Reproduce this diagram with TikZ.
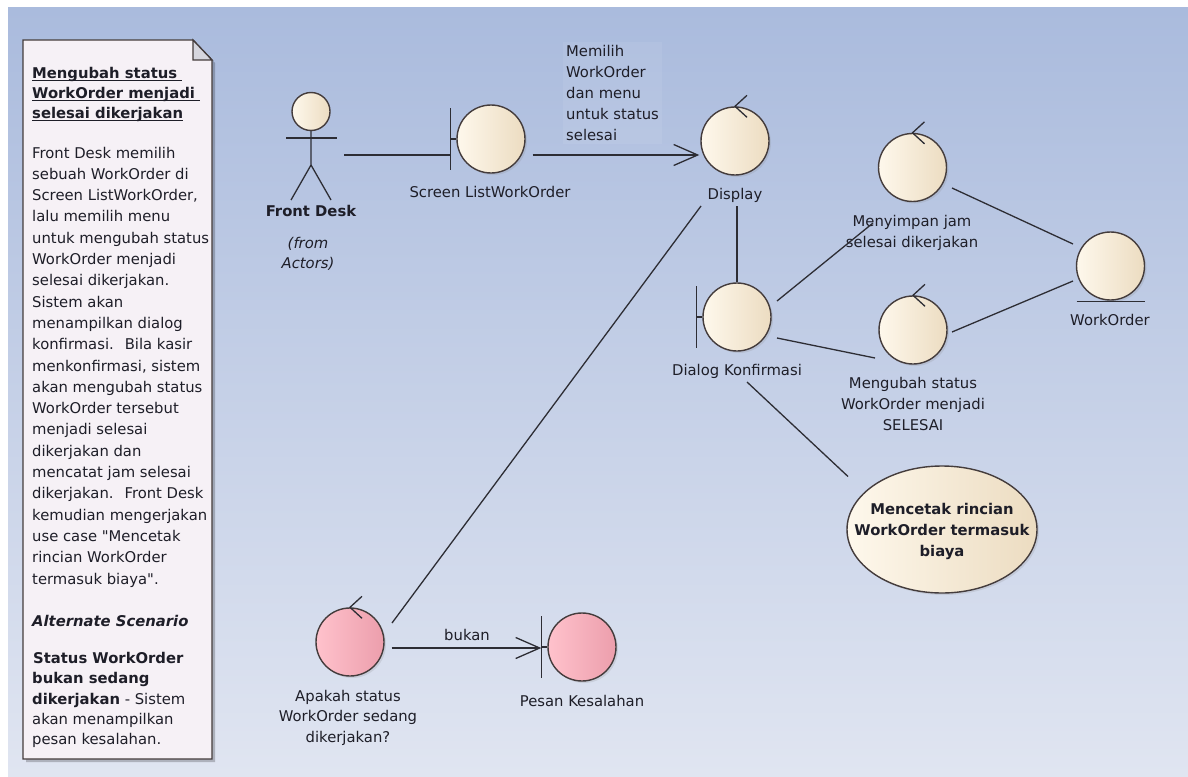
\documentclass[tikz,border=0pt]{standalone}
\usepackage{fontspec}
\setmainfont{DejaVu Sans}[Ligatures=TeXOff]
\usetikzlibrary{arrows.meta,calc,shapes.geometric,shadows}
\definecolor{bgtop}{RGB}{170,187,221}
\definecolor{bgbot}{RGB}{224,229,241}
\definecolor{beigeL}{RGB}{254,248,236}
\definecolor{beigeR}{RGB}{236,220,193}
\definecolor{pinkL}{RGB}{255,194,204}
\definecolor{pinkR}{RGB}{236,158,172}
\definecolor{outl}{RGB}{68,60,60}
\definecolor{conncol}{RGB}{45,45,52}
\definecolor{txt}{RGB}{30,30,40}
\definecolor{notefill}{RGB}{246,241,246}
\definecolor{foldfill}{RGB}{214,214,222}
\newcommand\mydfont{\fontsize{14.8}{21}\selectfont}
\newcommand\ctrlmark[1]{\draw[conn] ($(#1.north)+(12,-11)$) -- (#1.north) -- ($(#1.north)+(12,11)$);}
\newcommand\bndmark[1]{\draw[conn] ($(#1.west)+(-6,-31)$) -- ($(#1.west)+(-6,31)$) ($(#1.west)+(-6,0)$) -- (#1.west);}
\begin{document}
\begin{tikzpicture}[x=1pt,y=-1pt,
  robust/.style={circle, draw=outl, line width=1.4pt, minimum size=68pt, inner sep=0pt,
    left color=beigeL, right color=beigeR,
    drop shadow={opacity=0.18, shadow xshift=2pt, shadow yshift=-2pt}},
  robustpink/.style={robust, left color=pinkL, right color=pinkR},
  lbl/.style={font=\mydfont, text=txt, inner sep=0pt, align=center},
  notetxt/.style={font=\mydfont, text=txt, inner sep=0pt, anchor=base west},
  notebox/.style={draw=outl, line width=1.3pt, fill=notefill},
  conn/.style={draw=conncol, line width=1.3pt},
  arr/.style={conn, -{Straight Barb[length=24pt, width=21pt]}},
]
\useasboundingbox (0,0) rectangle (1188,776);
\fill[white] (0,0) rectangle (1188,776);
\shade[top color=bgtop, bottom color=bgbot] (8,8) rectangle (1188,776);

% ---------- note ----------
\fill[black, opacity=0.22] (26,43) -- (196,43) -- (215,63) -- (215,762) -- (26,762) -- cycle;
\draw[notebox] (23,40) -- (193,40) -- (212,60) -- (212,759) -- (23,759) -- cycle;
\draw[notebox, fill=foldfill] (193,40) -- (193,60) -- (212,60) -- cycle;

\node[notetxt, font=\mydfont\bfseries] (t1) at (32,78) {Mengubah status\kern5pt};
\node[notetxt, font=\mydfont\bfseries] (t2) at (32,98) {WorkOrder menjadi\kern5pt};
\node[notetxt, font=\mydfont\bfseries] (t3) at (32,118) {selesai dikerjakan};
\foreach \n in {t1,t2,t3}
  \draw[draw=txt, line width=1.2pt] ($(\n.base west)+(0,2.8)$) -- ($(\n.base east)+(0,2.8)$);

\foreach \t [count=\i from 0] in {{Front Desk memilih},{sebuah WorkOrder di},{Screen ListWorkOrder,},
  {lalu memilih menu},{untuk mengubah status},{WorkOrder menjadi},{selesai dikerjakan.},
  {Sistem akan},{menampilkan dialog},{konfirmasi.~ Bila kasir},{menkonfirmasi, sistem},
  {akan mengubah status},{WorkOrder tersebut},{menjadi selesai},{dikerjakan dan},
  {mencatat jam selesai},{dikerjakan.~ Front Desk},{kemudian mengerjakan},
  {use case "Mencetak},{rincian WorkOrder},{termasuk biaya".}}
  \node[notetxt] (nb\i) at (32,{158+21.3*\i}) {\t};

\node[notetxt, font=\mydfont\bfseries\itshape] (alt) at (32,626) {Alternate Scenario};
\node[notetxt, font=\mydfont\bfseries] (s1) at (33,663) {Status WorkOrder};
\node[notetxt, font=\mydfont\bfseries] (s2) at (32,683.5) {bukan sedang};
\node[notetxt] (s3) at (32,704) {\textbf{dikerjakan} - Sistem};
\node[notetxt] (s4) at (32,724) {akan menampilkan};
\node[notetxt] (s5) at (32,744.5) {pesan kesalahan.};

% ---------- actor ----------
\node[circle, draw=outl, line width=1.4pt, minimum size=38pt, inner sep=0pt,
  left color=beigeL, right color=beigeR] (head) at (311,111.5) {};
\draw[conn] (head.south) -- (311,165) -- (291,200);
\draw[conn] (311,165) -- (331,200);
\draw[conn] (286,138) -- (337,138);
\node[inner sep=0pt, minimum width=52pt, minimum height=108pt] (actor) at (311.5,146) {};
\node[lbl, font=\mydfont\bfseries, anchor=base] (lfd) at (311,216) {Front Desk};
\node[lbl, font=\fontsize{14.8}{20}\selectfont\itshape] (lfrom) at (308,253.5) {(from\\Actors)};

% ---------- elements ----------
\node[robust] (scr) at (491,139) {};
\bndmark{scr}
\node[robust] (disp) at (735,141) {};
\ctrlmark{disp}
\node[robust] (dlg) at (737,317) {};
\bndmark{dlg}
\node[robust] (simp) at (912.5,167.5) {};
\ctrlmark{simp}
\node[robust] (ubah) at (913,330) {};
\ctrlmark{ubah}
\node[robust] (wo) at (1110.5,266) {};
\draw[conn] ($(wo.south)+(-34,1)$) -- ($(wo.south)+(34,1)$);
\node[robustpink] (apk) at (350,642) {};
\ctrlmark{apk}
\node[robustpink] (psn) at (582,647) {};
\bndmark{psn}
\node[ellipse, draw=outl, line width=1.4pt, minimum width=190pt, minimum height=127pt, inner sep=0pt,
  left color=beigeL, right color=beigeR,
  drop shadow={opacity=0.18, shadow xshift=2pt, shadow yshift=-2pt}] (uc) at (942,529.5) {};

% ---------- labels ----------
\node[lbl, anchor=base] (lscr) at (490,197.5) {Screen ListWorkOrder};
\node[lbl, anchor=base] (ldisp) at (735,199) {Display};
\node[lbl, anchor=base] (ldlg) at (737,375) {Dialog Konfirmasi};
\node[lbl] (lsimp) at (912,233) {Menyimpan jam\\selesai dikerjakan};
\node[lbl] (lubah) at (913,404) {Mengubah status\\WorkOrder menjadi\\SELESAI};
\node[lbl, anchor=base] (lwo) at (1110,325) {WorkOrder};
\node[lbl, font=\fontsize{14.8}{20.5}\selectfont] (lapk) at (348,717.5) {Apakah status\\WorkOrder sedang\\dikerjakan?};
\node[lbl, anchor=base] (lpsn) at (582,706) {Pesan Kesalahan};
\node[lbl, anchor=base] (lbukan) at (467,640) {bukan};
\node[lbl, font=\mydfont\bfseries] (luc) at (942,531) {Mencetak rincian\\WorkOrder termasuk\\biaya};
\node[lbl, align=left, anchor=north west, inner sep=3pt, fill=white, fill opacity=0.07, text opacity=1]
  (lmem) at (563,42) {Memilih\\WorkOrder\\dan menu\\untuk status\\selesai};

% ---------- connectors ----------
\draw[conn] ($(actor.east)+(6.5,9)$) -- ($(scr.west)+(-6,16)$);
\draw[arr] ($(scr.east)+(7,16)$) -- ($(disp.west)+(-1,14)$);
\draw[conn] ($(disp)+(2,65)$) -- (dlg.north);
\draw[conn] ($(disp)+(-34,65)$) -- ($(apk)+(42,-19)$);
\draw[conn] ($(dlg)+(40,-16)$) -- ($(simp)+(-39.5,55.5)$);
\draw[conn] ($(dlg)+(40,21)$) -- ($(ubah)+(-38,28)$);
\draw[conn] ($(simp)+(39.5,20.5)$) -- ($(wo)+(-37.5,-22)$);
\draw[conn] ($(ubah)+(39,2)$) -- ($(wo)+(-37.5,15)$);
\draw[conn] ($(dlg)+(10,65)$) -- ($(uc)+(-94,-53)$);
\draw[arr] ($(apk.east)+(7,6)$) -- ($(psn.west)+(-6,1)$);
\end{tikzpicture}
\end{document}
